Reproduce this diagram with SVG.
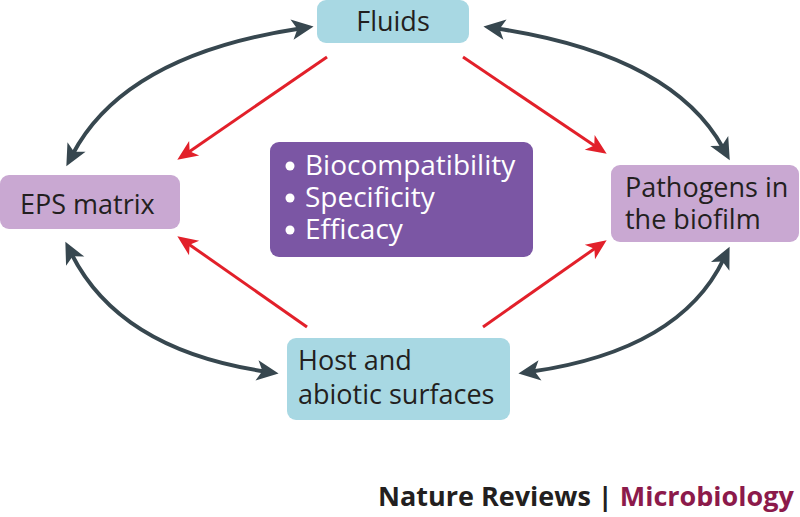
<svg xmlns="http://www.w3.org/2000/svg" width="800" height="517" viewBox="0 0 800 517">
<style>
.lbl{font-family:"Open Sans","Liberation Sans",sans-serif;font-size:27px;fill:#231f20}
.wht{font-family:"Open Sans","Liberation Sans",sans-serif;font-size:28px;fill:#ffffff}
.blue{fill:#a8d8e3}
.lilac{fill:#c9a8d2}
.grey{fill:none;stroke:#37474f;stroke-width:4}
.red{fill:none;stroke:#e2202a;stroke-width:3}
.foot{font-family:"Open Sans","Liberation Sans",sans-serif;font-size:27px;font-weight:bold}
</style>
<defs>
<marker id="gh" markerUnits="userSpaceOnUse" orient="auto-start-reverse" refX="0" refY="0" markerWidth="30" markerHeight="30" viewBox="-10 -10 22 20" overflow="visible">
<path d="M10,0 L-6,-7.5 L-2,0 L-6,7.5 z" fill="#37474f"/>
</marker>
<marker id="rh" markerUnits="userSpaceOnUse" orient="auto" refX="0" refY="0" markerWidth="30" markerHeight="30" viewBox="-10 -10 22 20" overflow="visible">
<path d="M9,0 L-6,-6.5 L-2,0 L-6,6.5 z" fill="#e2202a"/>
</marker>
</defs>
<rect width="800" height="517" fill="#ffffff"/>
<g id="connectors">
<path class="grey" d="M72.7,154.2 Q125,55 300.1,28.5" marker-start="url(#gh)" marker-end="url(#gh)"/>
<path class="grey" d="M496.9,28.5 Q672,55 723.2,148.2" marker-start="url(#gh)" marker-end="url(#gh)"/>
<path class="grey" d="M71.5,253.9 Q120,350 265.1,371.5" marker-start="url(#gh)" marker-end="url(#gh)"/>
<path class="grey" d="M531.9,371.6 Q680,350 723.7,259" marker-start="url(#gh)" marker-end="url(#gh)"/>
<path class="red" d="M327,57 L187.4,152.9" marker-end="url(#rh)"/>
<path class="red" d="M463,57 L596.5,147" marker-end="url(#rh)"/>
<path class="red" d="M307,327 L187.4,243.2" marker-end="url(#rh)"/>
<path class="red" d="M483,327 L596.6,247.2" marker-end="url(#rh)"/>
</g>
<g id="fluids">
<rect class="blue" x="317" y="0" width="152" height="43" rx="9"/>
<text class="lbl" x="393" y="31" text-anchor="middle">Fluids</text>
</g>
<g id="eps">
<rect class="lilac" x="0" y="175" width="180" height="54" rx="9"/>
<text class="lbl" x="20" y="214">EPS matrix</text>
</g>
<g id="pathogens">
<rect class="lilac" x="611" y="165" width="188" height="77" rx="9"/>
<text class="lbl" x="625" y="197">Pathogens in</text>
<text class="lbl" x="625" y="229">the biofilm</text>
</g>
<g id="center">
<rect x="270" y="142" width="263" height="115" rx="9" fill="#7b56a4"/>
<circle cx="290" cy="166" r="4.5" fill="#ffffff"/>
<circle cx="290" cy="198" r="4.5" fill="#ffffff"/>
<circle cx="290" cy="230" r="4.5" fill="#ffffff"/>
<text class="wht" x="305" y="175">Biocompatibility</text>
<text class="wht" x="305" y="207">Specificity</text>
<text class="wht" x="305" y="239">Efficacy</text>
</g>
<g id="host">
<rect class="blue" x="287" y="338" width="223" height="82" rx="9"/>
<text class="lbl" x="298" y="370">Host and</text>
<text class="lbl" x="298" y="404">abiotic surfaces</text>
</g>
<g id="footer">
<text class="foot" x="378" y="506"><tspan fill="#231f20">Nature Reviews</tspan><tspan fill="#231f20"> | </tspan><tspan fill="#8c1a4b">Microbiology</tspan></text>
</g>
</svg>
